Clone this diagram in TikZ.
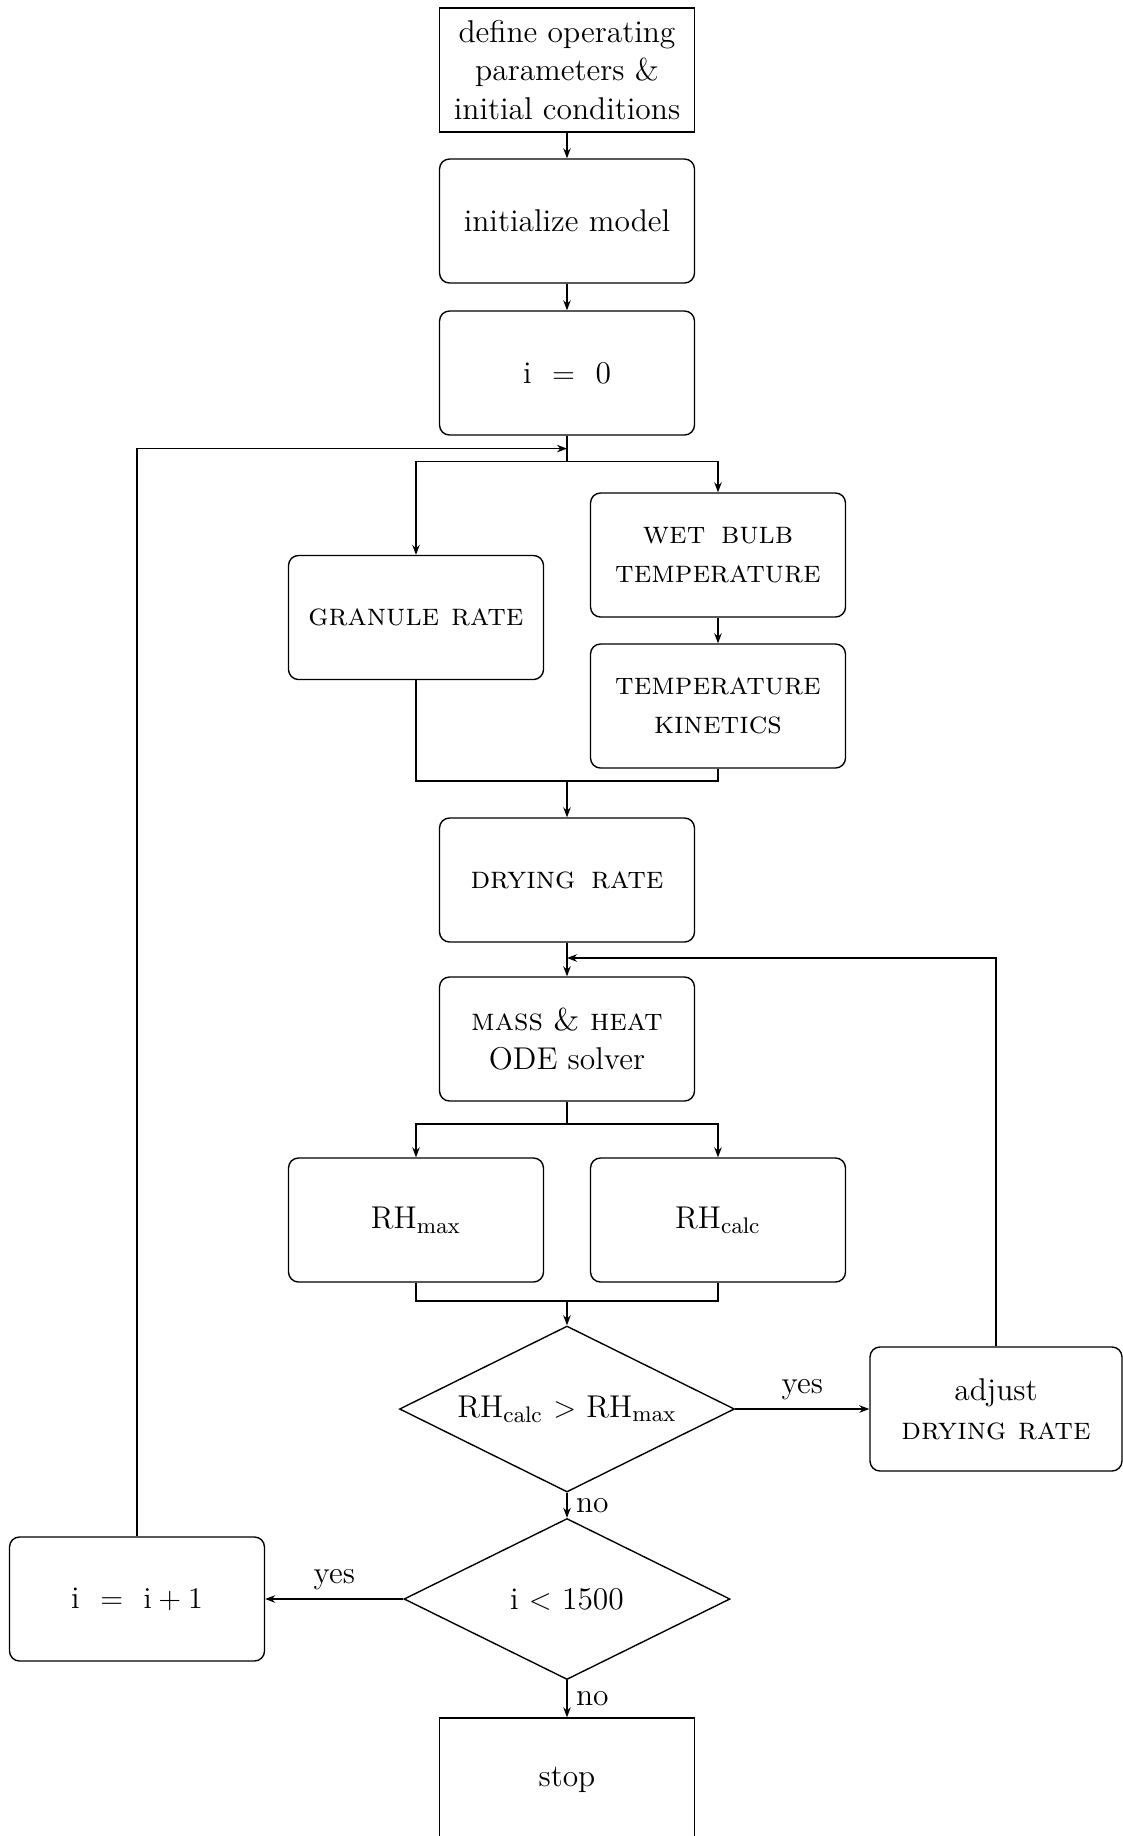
\documentclass[tikz,border=0pt]{standalone}
\usetikzlibrary{shapes.geometric,arrows.meta}
\begin{document}
\begin{tikzpicture}[x=0.4pt,y=-0.4pt, line width=0.55pt,
  font=\fontsize{12.6}{15.5}\selectfont,
  box/.style={draw, minimum width=102pt, minimum height=49.6pt, align=center, inner sep=2pt},
  rbox/.style={box, rounded corners=4pt},
  dec/.style={draw, diamond, inner sep=0pt, align=center, aspect=2.02},
  arr/.style={-{Stealth[length=4pt,width=3pt]}}]
\useasboundingbox (0,0) rectangle (1122,1836);

\node[box] (def) at (567,70) {define operating\\parameters \&\\initial conditions};
\node[rbox] (init) at (567,221) {initialize model};
\node[rbox] (i0) at (567,373) {i \ $=$ \ 0};
\node[rbox] (wet) at (718,555) {\textsc{wet\hspace{0.5em}bulb}\\\textsc{temperature}};
\node[rbox] (gran) at (416,617.5) {\textsc{granule rate}};
\node[rbox] (tk) at (718,706) {\textsc{temperature}\\\textsc{kinetics}};
\node[rbox] (dry) at (567,880) {\textsc{drying\hspace{0.5em}rate}};
\node[rbox] (mh) at (567,1039) {\textsc{mass} \textsc{\&} \textsc{heat}\\ODE solver};
\node[rbox] (rhmax) at (416,1220) {RH$_{\mathrm{max}}$};
\node[rbox] (rhcalc) at (718,1220) {RH$_{\mathrm{calc}}$};
\node[dec, minimum width=134pt, minimum height=66.4pt] (d1) at (567,1409) {RH$_{\mathrm{calc}}$ $>$ RH$_{\mathrm{max}}$};
\node[rbox, minimum width=100.8pt] (adj) at (996,1409) {adjust\\\textsc{drying rate}};
\node[dec, minimum width=130.4pt, minimum height=64.4pt] (d2) at (567,1599) {i $<$ 1500};
\node[rbox] (inc) at (137,1599) {i \ $=$ \ $\mathrm{i}+1$};
\node[box] (stop) at (567,1780) {stop};

\coordinate (j0) at (567,448.6);
\coordinate (j1) at (567,461.5);
\coordinate (m1) at (567,781);
\coordinate (fb) at (567,958);
\coordinate (b2) at (567,1124);
\coordinate (m2) at (567,1301);

\draw[arr] (def) -- (init);
\draw[arr] (init) -- (i0);
\draw (i0.south) -- (j1);
\draw[arr] (j1) -| (gran.north);
\draw[arr] (j1) -| (wet.north);
\draw[arr] (inc.north) |- (j0);
\draw[arr] (wet) -- (tk);
\draw (gran.south) |- (m1);
\draw (tk.south) |- (m1);
\draw[arr] (m1) -- (dry);
\draw[arr] (dry) -- (mh);
\draw[arr] (adj.north) |- (fb);
\draw (mh) -- (b2);
\draw[arr] (b2) -| (rhmax.north);
\draw[arr] (b2) -| (rhcalc.north);
\draw (rhmax.south) |- (m2);
\draw (rhcalc.south) |- (m2);
\draw[arr] (m2) -- (d1);
\draw[arr] (d1) -- node[above] {yes} (adj);
\draw[arr] (d1) -- node[right] {no} (d2);
\draw[arr] (d2) -- node[above] {yes} (inc);
\draw[arr] (d2) -- node[right] {no} (stop);
\end{tikzpicture}
\end{document}
